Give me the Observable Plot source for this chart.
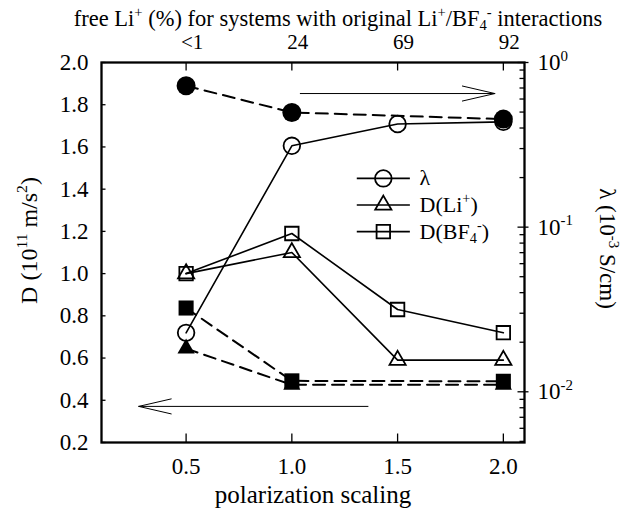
<!DOCTYPE html>
<html><head><meta charset="utf-8">
<script src="https://cdn.jsdelivr.net/npm/d3@7"></script>
<script src="https://cdn.jsdelivr.net/npm/@observablehq/plot@0.6"></script>
<style>body{margin:0;background:#fff}</style>
</head><body><div id="chart"></div>
<script>
// ---- data ----
const xTicks = [0.5, 1.0, 1.5, 2.0];
const xTickLabels = ["0.5", "1.0", "1.5", "2.0"];
const topTickLabels = ["<1", "24", "69", "92"];
const yTicks = [0.2, 0.4, 0.6, 0.8, 1.0, 1.2, 1.4, 1.6, 1.8, 2.0];
const lambdaMajor = [1, 0.1, 0.01];
const lambdaMajorLabels = ["10^{0}", "10^{-1}", "10^{-2}"];
const lambdaMinor = [0.9, 0.8, 0.7, 0.6, 0.5, 0.4, 0.3, 0.2,
  0.09, 0.08, 0.07, 0.06, 0.05, 0.04, 0.03, 0.02,
  0.009, 0.008, 0.007, 0.006, 0.005];

const scaling = [0.5, 1.0, 1.5, 2.0];
const lambdaScaled = [0.0228, 0.312, 0.423, 0.436];   // λ, open circles (right axis)
const dLiScaled = [1.00, 1.10, 0.59, 0.59];           // D(Li+), open triangles
const dBF4Scaled = [1.00, 1.19, 0.83, 0.72];          // D(BF4-), open squares
const scalingOrig = [0.5, 1.0, 2.0];
const lambdaOrig = [0.722, 0.497, 0.453];             // filled circles (right axis)
const dLiOrig = [0.645, 0.473, 0.473];                // filled triangles
const dBF4Orig = [0.837, 0.492, 0.490];               // filled squares

const legendLabels = ["λ", "D(Li^{+})", "D(BF_{4}^{-})"];
const titleTop = "free Li^{+} (%) for systems with original Li^{+}/BF_{4}^{-} interactions";
const titleBottom = "polarization scaling";
const titleLeft = "D (10^{11} m/s^{2})";
const titleRight = "λ (10^{-3} S/cm)";
const arrows = [{x1: 1.04, x2: 1.96, y: 1.853}, {x1: 1.36, x2: 0.276, y: 0.371}];

// ---- scales ----
const X_DOMAIN = [0.1, 2.1];
const Y_DOMAIN = [0.2, 2.0];
const LOG_MIN = -2.308, LOG_MAX = 0;
const ly = v => Y_DOMAIN[0] + (Math.log10(v) - LOG_MIN) / (LOG_MAX - LOG_MIN) * (Y_DOMAIN[1] - Y_DOMAIN[0]);
const pts = (xs, ys) => xs.map((x, i) => ({x, y: ys[i]}));

const seg = (x0, y0, x1, y1) => ({draw(ctx) { ctx.moveTo(x0, y0); ctx.lineTo(x1, y1); }});
const FONT = "'Liberation Serif', 'Times New Roman', serif";

const solid = {stroke: "black", strokeWidth: 1.6};
const dashed = {stroke: "black", strokeWidth: 2, strokeDasharray: "12,7"};

const lamS = pts(scaling, lambdaScaled.map(ly));
const liS = pts(scaling, dLiScaled);
const bfS = pts(scaling, dBF4Scaled);
const lamO = pts(scalingOrig, lambdaOrig.map(ly));
const liO = pts(scalingOrig, dLiOrig);
const bfO = pts(scalingOrig, dBF4Orig);

// legend layout
const LEG_X1 = 1.307, LEG_X2 = 1.558, LEG_XT = 1.604, LEG_Y0 = 1.451, LEG_DY = 0.126;
const legend = legendLabels.map((label, i) => ({label, y: LEG_Y0 - i * LEG_DY, sym: ["circle", "triangle", "square"][i]}));
const legendR = {circle: 8.3, triangle: 6, square: 7.6};

const topMap = new Map(xTicks.map((x, i) => [x, topTickLabels[i]]));
const botMap = new Map(xTicks.map((x, i) => [x, xTickLabels[i]]));
const rightMap = new Map(lambdaMajor.map((v, i) => [v, lambdaMajorLabels[i]]));

const openStyle = {fill: "none", stroke: "black", strokeWidth: 1.8};

const svg = Plot.plot({
  width: 621, height: 509,
  marginLeft: 101, marginRight: 97, marginTop: 62, marginBottom: 67,
  style: {background: "white", fontFamily: FONT, color: "black"},
  x: {domain: X_DOMAIN},
  y: {domain: Y_DOMAIN},
  marks: [
    // lines
    Plot.line(lamS, {x: "x", y: "y", ...solid}),
    Plot.line(liS, {x: "x", y: "y", ...solid}),
    Plot.line(bfS, {x: "x", y: "y", ...solid}),
    Plot.line(lamO, {x: "x", y: "y", ...dashed}),
    Plot.line(liO, {x: "x", y: "y", ...dashed}),
    Plot.line(bfO, {x: "x", y: "y", ...dashed}),
    // open markers
    Plot.dot(lamS, {x: "x", y: "y", symbol: "circle", r: 8.3, ...openStyle}),
    Plot.dot(liS, {x: "x", y: "y", symbol: "triangle", r: 6, ...openStyle}),
    Plot.dot(bfS, {x: "x", y: "y", symbol: "square", r: 7.6, ...openStyle}),
    // filled markers
    Plot.dot(lamO, {x: "x", y: "y", symbol: "circle", r: 9.5, fill: "black", stroke: "none"}),
    Plot.dot(liO, {x: "x", y: "y", symbol: "triangle", r: 6.4, fill: "black", stroke: "none"}),
    Plot.dot(bfO, {x: "x", y: "y", symbol: "square", r: 8.5, fill: "black", stroke: "none"}),
    // legend
    Plot.link(legend, {x1: () => LEG_X1, x2: () => LEG_X2, y1: "y", y2: "y", ...solid}),
    ...["circle", "triangle", "square"].map(s =>
      Plot.dot(legend.filter(d => d.sym === s), {x: () => (LEG_X1 + LEG_X2) / 2, y: "y", symbol: s, r: legendR[s], ...openStyle})),
    Plot.text(legend, {x: () => LEG_XT, y: "y", text: "label", textAnchor: "start", lineAnchor: "middle", fontSize: 22, fontFamily: FONT}),
    // arrows
    Plot.arrow(arrows, {x1: "x1", x2: "x2", y1: "y", y2: "y", stroke: "black", strokeWidth: 1, headAngle: 26, headLength: 50}),
    // ticks
    Plot.dot(yTicks, {y: d => d, frameAnchor: "left", symbol: seg(0, 0, 4, 0), r: 1, fill: "none", stroke: "black", strokeWidth: 1.3}),
    Plot.dot(xTicks, {x: d => d, frameAnchor: "bottom", symbol: seg(0, 0, 0, -9), r: 1, fill: "none", stroke: "black", strokeWidth: 1.3}),
    Plot.dot(xTicks, {x: d => d, frameAnchor: "top", symbol: seg(0, 0, 0, 8), r: 1, fill: "none", stroke: "black", strokeWidth: 1.3}),
    Plot.dot(lambdaMajor, {y: ly, frameAnchor: "right", symbol: seg(-7, 0, 4, 0), r: 1, fill: "none", stroke: "black", strokeWidth: 1.3}),
    Plot.dot(lambdaMinor, {y: ly, frameAnchor: "right", symbol: seg(-5, 0, 0, 0), r: 1, fill: "none", stroke: "black", strokeWidth: 1.3}),
    // axes labels
    Plot.axisY({anchor: "left", ticks: yTicks, tickFormat: d3.format(".1f"), tickSize: 0, tickPadding: 13, fontSize: 23, fontFamily: FONT, label: null}),
    Plot.axisX({anchor: "bottom", ticks: xTicks, tickFormat: d => botMap.get(d), tickSize: 0, tickPadding: 15, fontSize: 23, fontFamily: FONT, label: null}),
    Plot.axisX({anchor: "top", ticks: xTicks, tickFormat: d => topMap.get(d), tickSize: 0, tickPadding: 14, dx: 6, fontSize: 21, fontFamily: FONT, label: null}),
    Plot.text(lambdaMajor, {y: ly, frameAnchor: "right", text: d => rightMap.get(d), textAnchor: "start", lineAnchor: "middle", dx: 13, fontSize: 23, fontFamily: FONT}),
    // titles
    Plot.text([titleTop], {frameAnchor: "top", text: d => d, textAnchor: "middle", dx: 25, dy: -37, lineAnchor: "bottom", fontSize: 22.5, fontFamily: FONT}),
    Plot.text([titleBottom], {frameAnchor: "bottom", text: d => d, textAnchor: "middle", dy: 60, lineAnchor: "bottom", fontSize: 25, fontFamily: FONT}),
    Plot.text([titleLeft], {frameAnchor: "left", text: d => d, textAnchor: "middle", rotate: -90, dx: -65, dy: -12, lineAnchor: "bottom", fontSize: 24, fontFamily: FONT}),
    Plot.text([titleRight], {frameAnchor: "right", text: d => d, textAnchor: "middle", rotate: 90, dx: 75, dy: -4, lineAnchor: "bottom", fontSize: 23, fontFamily: FONT}),
    Plot.frame({stroke: "black", strokeWidth: 2.3})
  ]
});
document.getElementById("chart").appendChild(svg);

// rich text: ^{...} superscript, _{...} subscript
function richify(root) {
  root.querySelectorAll("text").forEach(t => {
    const s = t.textContent;
    if (!/[\^_]\{/.test(s)) return;
    const fs = parseFloat(getComputedStyle(t).fontSize) || 20;
    const parts = s.split(/(\^\{[^}]*\}|_\{[^}]*\})/).filter(p => p.length);
    t.textContent = "";
    let shift = 0;
    for (const p of parts) {
      let type = "n", txt = p;
      if (p.startsWith("^{")) { type = "sup"; txt = p.slice(2, -1); }
      else if (p.startsWith("_{")) { type = "sub"; txt = p.slice(2, -1); }
      const target = type === "sup" ? -0.4 * fs : type === "sub" ? 0.22 * fs : 0;
      const ts = document.createElementNS("http://www.w3.org/2000/svg", "tspan");
      ts.textContent = txt;
      if (target - shift !== 0) ts.setAttribute("dy", (target - shift).toFixed(2));
      if (type !== "n") ts.setAttribute("font-size", (0.65 * fs).toFixed(2));
      shift = target;
      t.appendChild(ts);
    }
  });
}
richify(svg);
</script>
</body></html>
